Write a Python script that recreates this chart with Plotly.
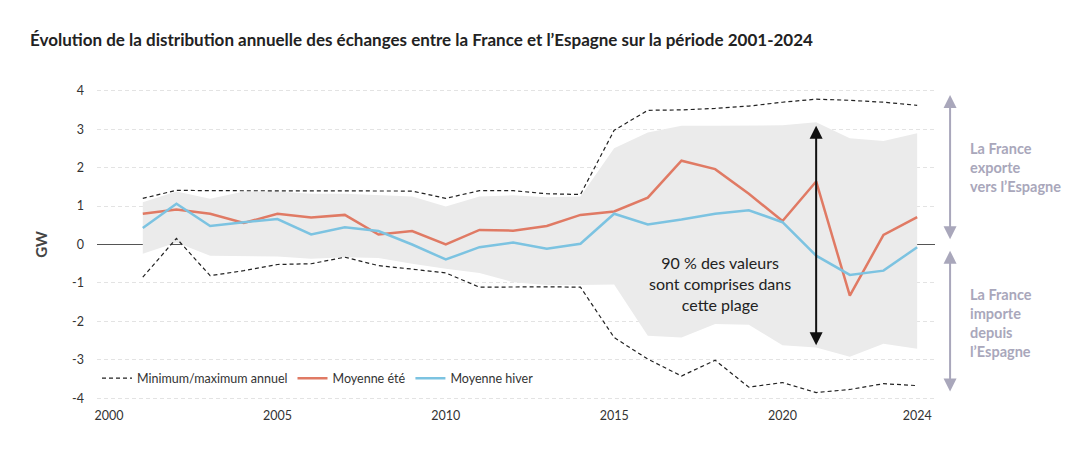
import plotly.graph_objects as go

# années
years = list(range(2001, 2025))

# min / max annuels (GW)
max_annuel = [1.20, 1.41, 1.40, 1.40, 1.40, 1.39, 1.39, 1.40, 1.39, 1.20, 1.40, 1.40,
              1.32, 1.30, 2.97, 3.49, 3.50, 3.54, 3.60, 3.70, 3.78, 3.75, 3.70, 3.62]
min_annuel = [-0.85, 0.16, -0.81, -0.68, -0.52, -0.50, -0.33, -0.55, -0.64, -0.74, -1.11, -1.10,
              -1.10, -1.11, -2.42, -2.98, -3.42, -3.01, -3.71, -3.59, -3.85, -3.77, -3.62, -3.67]

# plage à 90 % (5e et 95e centiles)
p95 = [1.10, 1.38, 1.19, 1.38, 1.38, 1.32, 1.32, 1.28, 1.25, 0.99, 1.25, 1.28,
       1.23, 1.25, 2.50, 2.91, 3.09, 3.09, 3.09, 3.10, 3.18, 2.76, 2.69, 2.89]
p05 = [-0.24, 0.05, -0.29, -0.30, -0.31, -0.37, -0.33, -0.35, -0.50, -0.63, -0.74, -0.98,
       -1.05, -1.05, -1.04, -2.37, -2.42, -2.07, -2.09, -2.62, -2.68, -2.92, -2.58, -2.71]

# moyennes saisonnières
moy_ete = [0.80, 0.91, 0.80, 0.56, 0.80, 0.70, 0.77, 0.26, 0.35, 0.00, 0.38, 0.36,
           0.48, 0.77, 0.86, 1.22, 2.18, 1.96, 1.32, 0.61, 1.64, -1.33, 0.25, 0.71]
moy_hiver = [0.43, 1.06, 0.48, 0.58, 0.66, 0.26, 0.45, 0.35, 0.00, -0.39, -0.07, 0.05,
             -0.11, 0.02, 0.80, 0.52, 0.65, 0.80, 0.89, 0.58, -0.29, -0.79, -0.68, -0.07]

y_ticks = [4, 3, 2, 1, 0, -1, -2, -3, -4]
y_ticklabels = ["4", "3", "2", "1", "0", "-1", "-2", "-3", "-4"]
x_ticks = [2000, 2005, 2010, 2015, 2020, 2024]

ORANGE = "#e07a64"
BLEU = "#7cc3e1"
GRIS_BANDE = "#ebebeb"
GRIS_TEXTE = "#a9a7bb"
TIRETS = "4px,3px"

fig = go.Figure()

# bande 90 %
fig.add_trace(go.Scatter(x=years, y=p05, mode="lines", line=dict(width=0),
                         showlegend=False, hoverinfo="skip"))
fig.add_trace(go.Scatter(x=years, y=p95, mode="lines", line=dict(width=0),
                         fill="tonexty", fillcolor=GRIS_BANDE,
                         showlegend=False, hoverinfo="skip"))

# min / max
fig.add_trace(go.Scatter(x=years, y=max_annuel, mode="lines",
                         name="Minimum/maximum annuel", legendgroup="mm",
                         line=dict(color="#222222", width=1.2, dash=TIRETS)))
fig.add_trace(go.Scatter(x=years, y=min_annuel, mode="lines",
                         name="Minimum/maximum annuel", legendgroup="mm", showlegend=False,
                         line=dict(color="#222222", width=1.2, dash=TIRETS)))

# moyennes
fig.add_trace(go.Scatter(x=years, y=moy_ete, mode="lines", name="Moyenne été",
                         line=dict(color=ORANGE, width=2.5)))
fig.add_trace(go.Scatter(x=years, y=moy_hiver, mode="lines", name="Moyenne hiver",
                         line=dict(color=BLEU, width=2.5)))

annotations = [
    # flèche noire de la plage 90 %
    dict(x=2021, y=3.09, ax=2021, ay=-2.66, xref="x", yref="y", axref="x", ayref="y",
         text="", showarrow=True, arrowhead=2, startarrowhead=2, arrowside="end+start",
         arrowsize=1.3, arrowwidth=2, arrowcolor="#111111"),
    dict(x=2018.15, y=-1.02, xref="x", yref="y", showarrow=False,
         text="90 % des valeurs<br>sont comprises dans<br>cette plage",
         font=dict(size=16, color="#222222")),
    # flèches grises à droite
    dict(x=1.018, y=3.89, ax=0, ay=0.1, xref="paper", yref="y", axref="pixel", ayref="y",
         text="", showarrow=True, arrowhead=2, startarrowhead=2, arrowside="end+start",
         arrowsize=1.3, arrowwidth=2, arrowcolor=GRIS_TEXTE),
    dict(x=1.018, y=-0.16, ax=0, ay=-3.86, xref="paper", yref="y", axref="pixel", ayref="y",
         text="", showarrow=True, arrowhead=2, startarrowhead=2, arrowside="end+start",
         arrowsize=1.3, arrowwidth=2, arrowcolor=GRIS_TEXTE),
    dict(x=1.039, y=1.99, xref="paper", yref="y", xanchor="left", align="left",
         showarrow=False, text="La France<br>exporte<br>vers l’Espagne",
         font=dict(size=14.5, color=GRIS_TEXTE, weight="bold")),
    dict(x=1.039, y=-2.03, xref="paper", yref="y", xanchor="left", align="left",
         showarrow=False, text="La France<br>importe<br>depuis<br>l’Espagne",
         font=dict(size=14.5, color=GRIS_TEXTE, weight="bold")),
]

fig.update_layout(
    width=1090, height=467,
    margin=dict(l=89, r=163, t=75, b=69),
    paper_bgcolor="white", plot_bgcolor="white",
    font=dict(family="Lato, 'Noto Sans', sans-serif", size=12, color="#333333"),
    title=dict(text="Évolution de la distribution annuelle des échanges entre la France et l’Espagne sur la période 2001-2024",
               x=22 / 1090, xanchor="left", y=1 - 32 / 467, yanchor="middle",
               font=dict(size=17, color="#222222", weight="bold")),
    xaxis=dict(range=[1999.64, 2024.53], tickvals=x_ticks, showgrid=False,
               zeroline=False, showline=False, ticks="", tickfont=dict(size=12.5, color="#333333")),
    yaxis=dict(range=[-4.2, 4.2], tickvals=y_ticks, ticktext=y_ticklabels,
               showgrid=True, gridcolor="#e3e3e3", griddash="4px,3px", gridwidth=1,
               zeroline=True, zerolinecolor="#555555", zerolinewidth=1,
               showline=False, ticks="", ticklabelstandoff=12,
               title=dict(text="GW", standoff=20, font=dict(size=15, color="#444444", weight="bold")),
               tickfont=dict(size=12.5, color="#333333")),
    legend=dict(orientation="h", x=0.0, y=0.085, xanchor="left", yanchor="middle",
                itemwidth=30, bgcolor="rgba(0,0,0,0)", font=dict(size=12.5, color="#333333")),
    annotations=annotations,
)

fig.write_html("out.html")
